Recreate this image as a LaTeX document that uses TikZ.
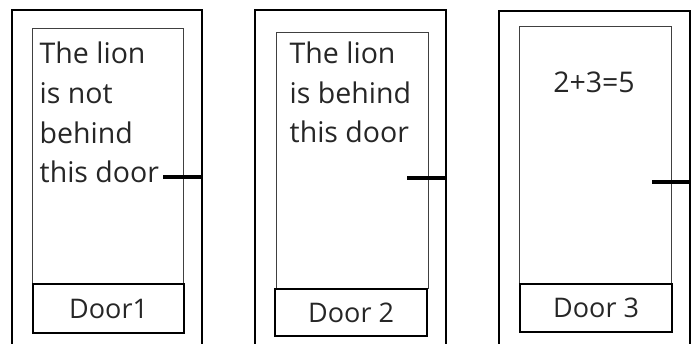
\documentclass[tikz,border=0pt]{standalone}
\usepackage{fontspec}
\setmainfont{Open Sans}
\begin{document}
\begin{tikzpicture}[x=1pt,y=-1pt,
  frame/.style={draw=black,line width=2.6pt},
  panel/.style={draw=black!75,line width=0.8pt,inner sep=0pt},
  label/.style={draw=black,line width=2.2pt,inner sep=0pt,text=black!85,font=\fontsize{27}{30}\selectfont},
  handle/.style={line width=4pt},
  txt/.style={anchor=base west,inner sep=0pt,text=black!85,font=\fontsize{28.5}{30}\selectfont}]
\useasboundingbox (0,0) rectangle (696,344);
\begin{scope}
\clip (0,0) rectangle (696,344);
% Door 1
\draw[frame] (12,350) -- (12,10) -- (202,10) -- (202,350);
\node[panel,minimum width=151pt,minimum height=255pt,anchor=north west] (p1) at (32,28) {};
\node[label,minimum width=151pt,minimum height=49pt,anchor=north west] (l1) at (32,283) {Door1};
\node[txt] (t1a) at (39.5,64) {The lion};
\node[txt] (t1b) at (39.5,104) {is not};
\node[txt] (t1c) at (39.5,144) {behind};
\node[txt] (t1d) at (39.5,183) {this door};
\coordinate (h1a) at (163,177);
\coordinate (h1b) at (202,177);
\draw[handle] (h1a) -- (h1b);
% Door 2
\draw[frame] (255,350) -- (255,10) -- (446,10) -- (446,350);
\node[panel,minimum width=152pt,minimum height=256pt,anchor=north west] (p2) at (276,32) {};
\node[label,minimum width=152pt,minimum height=47pt,anchor=north west] (l2) at (274,288) {Door 2};
\node[txt] (t2a) at (289.5,64) {The lion};
\node[txt] (t2b) at (289.5,104) {is behind};
\node[txt] (t2c) at (289.5,143) {this door};
\coordinate (h2a) at (407,178);
\coordinate (h2b) at (446,178);
\draw[handle] (h2a) -- (h2b);
% Door 3
\draw[frame] (499,350) -- (499,11) -- (690,11) -- (690,350);
\node[panel,minimum width=152pt,minimum height=257pt,anchor=north west] (p3) at (519,26) {};
\node[label,minimum width=152pt,minimum height=48pt,anchor=north west] (l3) at (519,283) {Door 3};
\node[inner sep=0pt,text=black!85,font=\fontsize{28.5}{30}\selectfont] (t3) at (594,82) {2+3=5};
\coordinate (h3a) at (652,182);
\coordinate (h3b) at (690,182);
\draw[handle] (h3a) -- (h3b);
\end{scope}
\end{tikzpicture}
\end{document}
